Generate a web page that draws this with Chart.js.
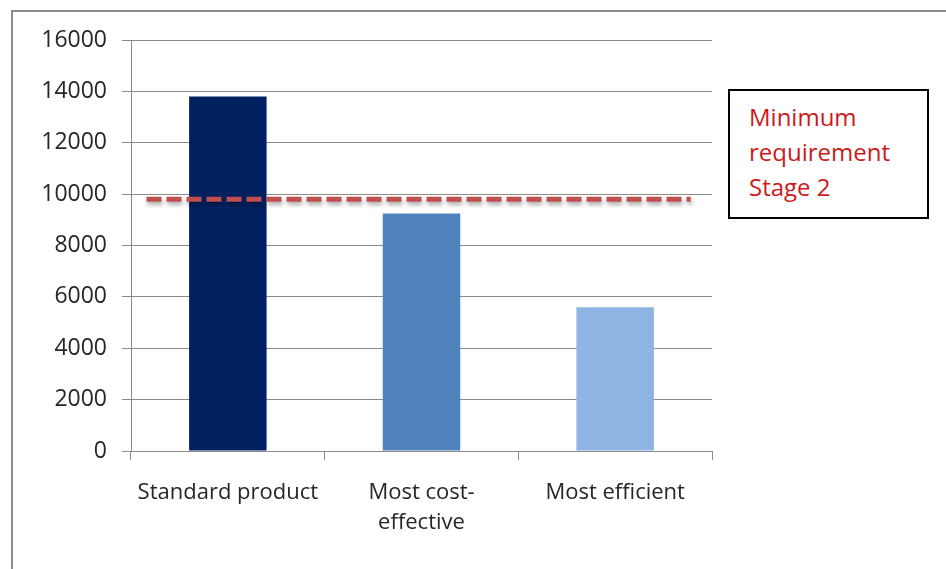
<!DOCTYPE html>
<html>
<head>
<meta charset="utf-8">
<script src="https://cdn.jsdelivr.net/npm/chart.js@4/dist/chart.umd.min.js"></script>
<style>
  html, body { margin: 0; padding: 0; background: #fff; }
  #wrap { position: relative; width: 946px; height: 569px; overflow: hidden; }
  #frame {
    position: absolute; left: 11px; top: 10px; width: 1000px; height: 600px;
    border-left: 2px solid #8c8c8c; border-top: 2px solid #8c8c8c;
    pointer-events: none;
  }
  #note {
    position: absolute; left: 728px; top: 89px; width: 197px; height: 126px;
    border: 2px solid #000; background: #fff;
    font-family: "Open Sans", sans-serif; font-size: 24px; line-height: 35px;
    color: #cc1a1a; padding: 0; box-sizing: content-box;
  }
  #note div { position: absolute; left: 19px; top: 8px; white-space: nowrap; }
</style>
</head>
<body>
<div id="wrap">
  <canvas id="c" width="946" height="569"></canvas>
  <div id="frame"></div>
  <div id="note"><div>Minimum<br>requirement<br>Stage 2</div></div>
</div>
<script>
// Product categories and their values
const categories = ['Standard product', ['Most cost-', 'effective'], 'Most efficient'];
const values = [13800, 9250, 5600];
const barColors = ['#002060', '#4f81bd', '#8eb4e3'];

// Minimum requirement (Stage 2) and the span of its dashed marker on the category axis
const requirement = 9800;
const requirementSpan = [-0.42, 2.39];

// Value axis ticks
const yTicks = [0, 2000, 4000, 6000, 8000, 10000, 12000, 14000, 16000];

const gridColor = '#8a8a8a';
const textColor = '#262626';

// Soft drop shadow under the dashed requirement line
const lineShadow = {
  id: 'lineShadow',
  beforeDatasetDraw(chart, args) {
    if (args.meta.type !== 'line') return;
    const ctx = chart.ctx;
    ctx.save();
    ctx.shadowColor = 'rgba(0,0,0,0.35)';
    ctx.shadowBlur = 4;
    ctx.shadowOffsetX = 1;
    ctx.shadowOffsetY = 3;
  },
  afterDatasetDraw(chart, args) {
    if (args.meta.type !== 'line') return;
    chart.ctx.restore();
  }
};

new Chart(document.getElementById('c'), {
  type: 'bar',
  data: {
    labels: categories,
    datasets: [
      {
        type: 'line',
        order: 0,
        xAxisID: 'x2',
        data: requirementSpan.map(x => ({ x, y: requirement })),
        borderColor: '#c0504d',
        borderWidth: 5,
        borderDash: [15, 5],
        borderCapStyle: 'butt',
        pointRadius: 0,
        fill: false
      },
      {
        type: 'bar',
        order: 1,
        xAxisID: 'x',
        data: values,
        backgroundColor: barColors,
        borderWidth: 0,
        grouped: false,
        categoryPercentage: 1,
        barPercentage: 0.4
      }
    ]
  },
  plugins: [lineShadow],
  options: {
    responsive: false,
    animation: false,
    layout: { padding: { left: 0, right: 234, top: 40, bottom: 0 } },
    plugins: { legend: { display: false }, tooltip: { enabled: false } },
    scales: {
      x: {
        type: 'category',
        offset: true,
        grid: { display: true, offset: true, drawOnChartArea: false, drawTicks: true, tickLength: 9, color: gridColor, lineWidth: 1 },
        border: { display: true, color: gridColor, width: 1 },
        ticks: {
          color: textColor, padding: 18, maxRotation: 0, autoSkip: false,
          font: { family: 'Open Sans', size: 22, lineHeight: 1.36 }
        },
        afterFit(scale) { scale.height = 118; }
      },
      x2: {
        type: 'linear',
        display: false,
        offset: false,
        grid: { offset: false },
        min: -0.5,
        max: 2.5
      },
      y: {
        min: 0,
        max: 16000,
        afterBuildTicks(scale) { scale.ticks = yTicks.map(v => ({ value: v })); },
        grid: { color: gridColor, lineWidth: 1, drawTicks: true, tickLength: 9 },
        border: { display: true, color: gridColor, width: 1 },
        ticks: {
          color: textColor, padding: 15,
          font: { family: 'Open Sans', size: 23 },
          callback: v => String(v)
        },
        afterFit(scale) { scale.width = 131; }
      }
    }
  }
});
</script>
</body>
</html>
